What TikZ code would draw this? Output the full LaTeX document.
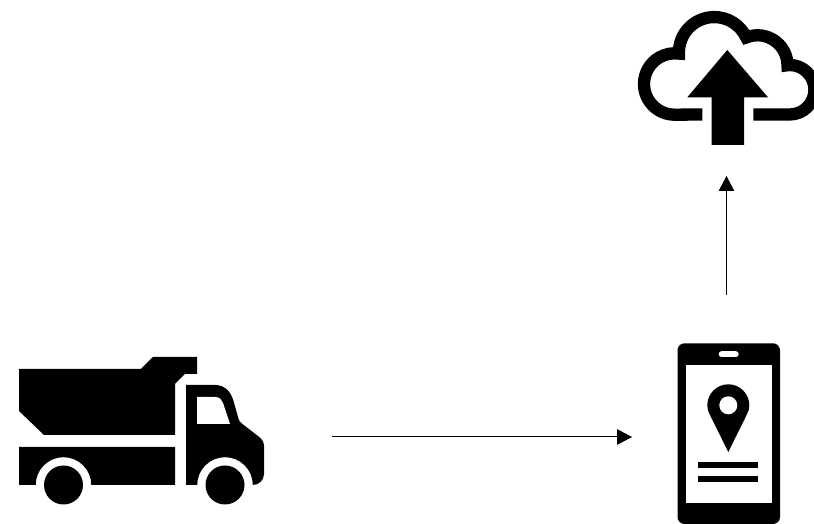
\documentclass[tikz,border=0pt]{standalone}
\usetikzlibrary{arrows.meta}
\tikzset{
  solidicon/.style={fill=black,draw=none},
  hollow/.style={fill=white,draw=none},
  cloudline/.style={draw=black,line width=12.3pt,miter limit=10,line join=miter,fill=none},
  flow/.style={draw=black,line width=1pt,-{Triangle[length=15pt,width=15.5pt]}}
}
\begin{document}
\begin{tikzpicture}[x=1pt,y=1pt]
\clip (0,0) rectangle (814,524);
\fill[white] (0,0) rectangle (814,524);

% truck (y = 524 - pixel row)
\fill[solidicon] (19,155) -- (141,155) -- (153,167) -- (197,167) -- (197,150) -- (185,150) -- (175,140) -- (175,89) -- (44,89) -- (19,113) -- cycle;
\fill[solidicon] (19,77) -- (175,77) -- (175,39) -- (91.3,39) arc (0:180:27.8) -- (19,39) -- cycle;
\fill[solidicon] (63.5,39) circle (19.5);
\fill[solidicon] (186,139) -- (215,139) .. controls (225,139) and (231,132) .. (233.5,123) -- (238,107) .. controls (239,103) and (240,102) .. (243,99.5) -- (258,88) .. controls (262,85) and (264,82) .. (264,78) -- (264,50) .. controls (264,44) and (259,39) .. (253,39) -- (252.8,39) arc (0:180:27.8) -- (186,39) -- cycle;
\fill[hollow] (197,127) -- (215,127) .. controls (220,127) and (222,124) .. (223,121) -- (230,100) -- (197,100) -- cycle;
\fill[solidicon] (225,39) circle (19.5);

% phone
\fill[solidicon, rounded corners=7pt] (677.5,0) rectangle (780,180.7);
\fill[hollow] (685.7,21) rectangle (772.3,159);
\fill[hollow, rounded corners=2.8pt] (718.7,167) rectangle (738.7,172.8);
\fill[solidicon] (728.3,72) -- (709.5,110) .. controls (708,113) and (707.3,115.5) .. (707.3,118.7) arc (180:0:21) .. controls (749.3,115.5) and (748.6,113) .. (747.1,110) -- cycle;
\fill[hollow] (728.3,118.7) circle (9);
\fill[solidicon] (698.3,56) rectangle (758.3,62);
\fill[solidicon] (698.3,42) rectangle (758.3,48);

% cloud
\draw[cloudline] (702.3,409.5) -- (674.7,409.3) arc (270:82:30.7) arc (182:25:35.3) arc (112:0:30) -- (789.7,459) arc (90:-90:24.75) -- (753.3,409.5);
\fill[solidicon] (727.3,474) -- (768,426.7) -- (744,426.7) -- (744,379) -- (711.7,379) -- (711.7,426.7) -- (687.3,426.7) -- cycle;

% connectors
\coordinate (truckout) at (332,87);
\coordinate (phonein) at (632,87);
\coordinate (phoneout) at (726.5,229);
\coordinate (cloudin) at (726.5,348);
\draw[flow] (truckout) -- (phonein);
\draw[flow] (phoneout) -- (cloudin);
\end{tikzpicture}
\end{document}
